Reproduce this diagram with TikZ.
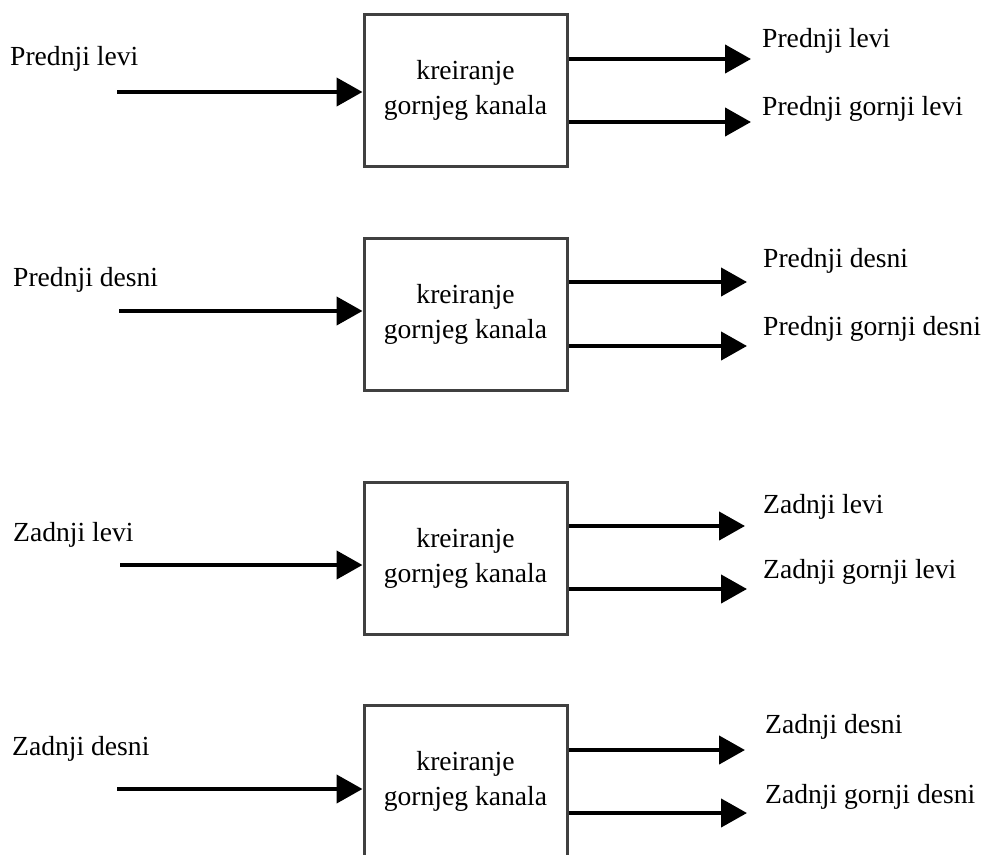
\documentclass[tikz,border=0pt]{standalone}
\usepackage{fontspec}
\setmainfont{Liberation Serif}
\usetikzlibrary{arrows.meta}
\definecolor{boxgray}{HTML}{404040}
\begin{document}
\begin{tikzpicture}[x=1pt,y=-1pt,
  font=\fontsize{27.6}{35}\selectfont,
  block/.style={draw=boxgray,line width=3pt,fill=white,minimum width=203pt,
    minimum height=152pt,align=center,inner sep=0pt},
  flow/.style={line width=4.3pt,-{Triangle[length=26pt,width=28pt]}},
  lbl/.style={anchor=base west,inner sep=0pt}]
\useasboundingbox (0,0) rectangle (984,854);

% one block per channel
\node[block] (b1) at (465.5,90)  {kreiranje\\gornjeg kanala};
\node[block] (b2) at (465.5,314) {kreiranje\\gornjeg kanala};
\node[block] (b3) at (465.5,558) {kreiranje\\gornjeg kanala};
\node[block] (b4) at (465.5,781) {kreiranje\\gornjeg kanala};

% input ends
\coordinate (i1) at (117,92);
\coordinate (i2) at (119,311);
\coordinate (i3) at (120,565);
\coordinate (i4) at (117,789);

% output tips
\coordinate (o1a) at (751,59);  \coordinate (o1b) at (751,122);
\coordinate (o2a) at (747,282); \coordinate (o2b) at (747,346);
\coordinate (o3a) at (745,526); \coordinate (o3b) at (747,589);
\coordinate (o4a) at (745,750); \coordinate (o4b) at (747,813);

% input arrows
\foreach \k in {1,2,3,4}
  \draw[flow] (i\k) -- (i\k -| b\k.west);

% output arrows
\foreach \k in {1,2,3,4} {
  \draw[flow] (o\k a -| b\k.east) -- (o\k a);
  \draw[flow] (o\k b -| b\k.east) -- (o\k b);
}

% input labels
\node[lbl] (l1) at (10,65)  {Prednji levi};
\node[lbl] (l2) at (13,286) {Prednji desni};
\node[lbl] (l3) at (13,541) {Zadnji levi};
\node[lbl] (l4) at (12,755) {Zadnji desni};

% output labels
\node[lbl] (r1a) at (762,47)  {Prednji levi};
\node[lbl] (r1b) at (762,115) {Prednji gornji levi};
\node[lbl] (r2a) at (763,267) {Prednji desni};
\node[lbl] (r2b) at (763,335) {Prednji gornji desni};
\node[lbl] (r3a) at (763,513) {Zadnji levi};
\node[lbl] (r3b) at (763,578) {Zadnji gornji levi};
\node[lbl] (r4a) at (765,733) {Zadnji desni};
\node[lbl] (r4b) at (765,803) {Zadnji gornji desni};
\end{tikzpicture}
\end{document}
